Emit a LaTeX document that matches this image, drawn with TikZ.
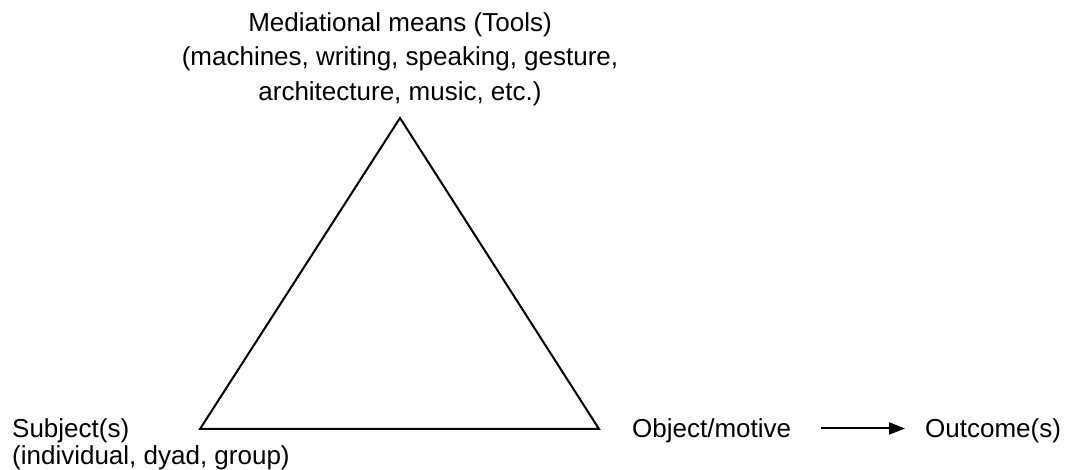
\documentclass[tikz,border=0pt]{standalone}
\usepackage{fontspec}
\setmainfont{Liberation Sans}
\usetikzlibrary{arrows.meta}

\begin{document}
\begin{tikzpicture}[x=1pt, y=-1pt,
  toplabel/.style={inner sep=0pt, align=center, font=\fontsize{26}{34.5}\selectfont},
  sidelabel/.style={inner sep=0pt, align=left, font=\fontsize{26}{27}\selectfont},
  rowlabel/.style={inner sep=0pt, font=\fontsize{26}{27}\selectfont, text height=19pt, text depth=0pt},
  tri/.style={line width=2pt, line join=miter},
  arr/.style={-{Triangle[length=16pt, width=12pt]}, line width=2pt}
]
  \useasboundingbox (0,0) rectangle (1072,470);

  % Tools at the top
  \node[toplabel, anchor=north] (tools) at (400,12) {Mediational means (Tools)\\(machines, writing, speaking, gesture,\\architecture, music, etc.)};

  % Triangle corners
  \coordinate (apex) at (400,118);
  \coordinate (corner-s) at (200,429);
  \coordinate (corner-o) at (599,429);
  \draw[tri] (apex) -- (corner-s) -- (corner-o) -- cycle;

  % Subject, object and outcome
  \node[sidelabel, anchor=north west] (subject) at (12,418) {Subject(s)\\(individual, dyad, group)};
  \node[rowlabel, anchor=base west] (object) at (632,438) {Object/motive};
  \node[rowlabel, anchor=base west] (outcome) at (925,438) {Outcome(s)};

  % Arrow
  \draw[arr, shorten <=30pt, shorten >=20pt] (object.east) -- (outcome.west);
\end{tikzpicture}
\end{document}
